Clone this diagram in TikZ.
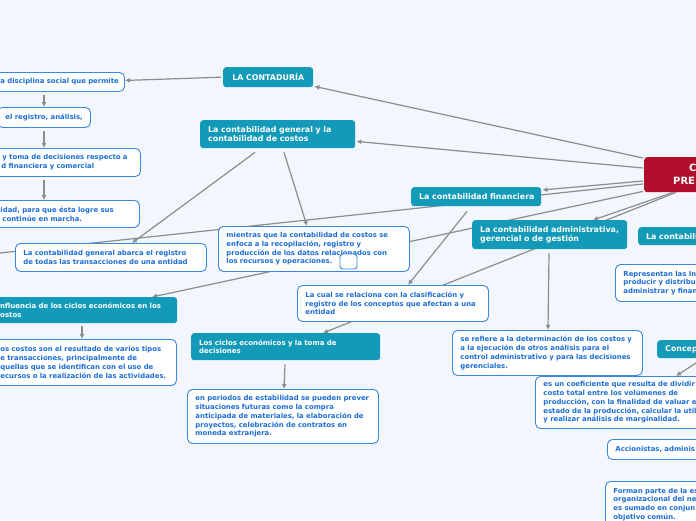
\documentclass[tikz,border=0pt]{standalone}
\usepackage{fontspec}
\setmainfont{DejaVu Sans}
\usetikzlibrary{calc,arrows.meta,backgrounds}
\definecolor{bg}{RGB}{243,246,253}
\definecolor{tealc}{RGB}{19,154,185}
\definecolor{redc}{RGB}{176,14,42}
\definecolor{bord}{RGB}{58,135,224}
\definecolor{blu}{RGB}{28,110,214}
\definecolor{gr}{RGB}{140,140,140}
\tikzset{
 tealbox/.style={fill=tealc, rounded corners=3pt, text=white, font=\fontsize{7.9}{9}\selectfont\bfseries, align=left, inner xsep=8pt, inner ysep=0pt, anchor=north west},
 smallteal/.style={tealbox, font=\fontsize{7}{8.5}\selectfont\bfseries},
 redbox/.style={fill=redc, rounded corners=3pt, text=white, font=\fontsize{10}{13}\selectfont\bfseries, align=left, inner ysep=0pt, anchor=north west},
 whitebox/.style={fill=white, draw=bord, line width=0.9pt, rounded corners=5pt, text=blu, font=\fontsize{6.9}{8.7}\selectfont\bfseries, align=left, inner xsep=8pt, inner ysep=0pt, anchor=north west},
 sqbox/.style={fill=white, draw=bord, line width=0.9pt, rounded corners=3pt, minimum width=17pt, minimum height=15pt, inner sep=0pt},
 conn/.style={draw=gr, line width=1.2pt},
 arr/.style={conn, -{Latex[length=5pt,width=5pt]}},
}
\begin{document}
\begin{tikzpicture}[x=1pt,y=-1pt]
\useasboundingbox (0,0) rectangle (696,520);
\clip (0,0) rectangle (696,520);
% teal nodes
\node[tealbox, text width=74pt, align=center, minimum height=20pt] (cont) at (223,67) {\mbox{LA CONTADURÍA}};
\node[tealbox, text width=139pt, minimum height=28pt] (gen) at (200,120) {\mbox{La contabilidad general y la}\\\mbox{contabilidad de costos}};
\node[tealbox, text width=114pt, minimum height=19pt] (fin) at (411,187) {\mbox{La contabilidad financiera}};
\node[tealbox, text width=139pt, minimum height=29pt] (adm) at (472,220) {\mbox{La contabilidad administrativa,}\\\mbox{gerencial o de gestión}};
\node[tealbox, text width=100pt, minimum height=18pt] (cos) at (638,227) {\mbox{La contabili}};
\node[smallteal, text width=169pt, minimum height=26pt] (infl) at (-8,297) {\mbox{nfluencia de los ciclos económicos en los}\\\mbox{ostos}};
\node[smallteal, text width=173pt, minimum height=27pt] (cic) at (191,333) {\mbox{Los ciclos económicos y la toma de}\\\mbox{decisiones}};
\node[tealbox, text width=60pt, minimum height=18pt] (conc) at (657,340) {\mbox{Concept}};
\node[redbox, text width=60pt, inner xsep=29pt, minimum height=35pt] (red) at (644,157) {\hspace*{16pt}C\\PRE};
% white nodes
\node[whitebox, text width=116pt, minimum height=19pt] (dis) at (-8,72) {\mbox{a disciplina social que permite}};
\node[whitebox, text width=77pt, minimum height=20pt] (reg) at (-3,107) {\mbox{el registro, análisis,}};
\node[whitebox, text width=131pt, minimum height=28pt] (toma) at (-7,148) {\mbox{\hspace*{1pt}y toma de decisiones respecto a}\\\mbox{d financiera y comercial}};
\node[whitebox, text width=131pt, minimum height=27pt] (ida) at (-8,200) {\mbox{idad, para que ésta logre sus}\\\mbox{\hspace*{2pt}continúe en marcha.}};
\node[whitebox, text width=175pt, minimum height=28pt] (abar) at (15,243) {\mbox{La contabilidad general abarca el registro}\\\mbox{de todas las transacciones de una entidad}};
\node[whitebox, text width=175pt, minimum height=45pt] (mien) at (218,226) {\mbox{mientras que la contabilidad de costos se}\\\mbox{enfoca a la recopilación, registro y}\\\mbox{producción de los datos relacionados con}\\\mbox{los recursos y operaciones.}};
\node[sqbox] (sq) at (348.5,261.5) {};
\node[whitebox, text width=175pt, minimum height=36pt] (cual) at (297,285) {\mbox{La cual se relaciona con la clasificación y}\\\mbox{registro de los conceptos que afectan a una}\\\mbox{entidad}};
\node[whitebox, text width=175pt, minimum height=54pt] (per) at (187,389) {\mbox{en periodos de estabilidad se pueden prever}\\\mbox{situaciones futuras como la compra}\\\mbox{anticipada de materiales, la elaboración de}\\\mbox{proyectos, celebración de contratos en}\\\mbox{moneda extranjera.}};
\node[whitebox, text width=174pt, minimum height=45pt] (ref) at (452,330) {\mbox{se refiere a la determinación de los costos y}\\\mbox{a la ejecución de otros análisis para el}\\\mbox{control administrativo y para las decisiones}\\\mbox{gerenciales.}};
\node[whitebox, text width=168pt, minimum height=46pt] (cost2) at (-8,339) {\mbox{os costos son el resultado de varios tipos}\\\mbox{e transacciones, principalmente de}\\\mbox{quellas que se identifican con el uso de}\\\mbox{ecursos o la realización de las actividades.}};
\node[whitebox, text width=110pt, minimum height=37pt] (rep) at (615,264) {\mbox{Representan las In}\\\mbox{producir y distribu}\\\mbox{administrar y finan}};
\node[whitebox, text width=190pt, minimum height=52pt] (coef) at (535,376) {\mbox{es un coeficiente que resulta de dividir}\\\mbox{costo total entre los volúmenes de}\\\mbox{producción, con la finalidad de valuar e}\\\mbox{estado de la producción, calcular la util}\\\mbox{y realizar análisis de marginalidad.}};
\node[whitebox, text width=110pt, minimum height=20pt] (acc) at (607,439) {\mbox{Accionistas, adminis}};
\node[whitebox, text width=110pt, minimum height=46pt] (for) at (605,481) {\mbox{Forman parte de la es}\\\mbox{organizacional del ne}\\\mbox{es sumado en conjun}\\\mbox{objetivo común.}};
\coordinate (offl) at (-30,256.2);
\begin{pgfonlayer}{background}
\clip (0,0) rectangle (696,520);
\fill[bg] (0,0) rectangle (696,520);
\draw[arr] ($(red.north west)+(-1,1)$) -- ($(cont.south east)+(1,-1)$);
\draw[arr] ($(red.north west)+(-1,11)$) -- ($(gen.south east)+(1,-7)$);
\draw[arr] ($(red.north west)+(-1,24)$) -- ($(fin.north east)+(1,3)$);
\draw[conn] ($(red.north west)+(-1,27)$) -- (offl);
\draw[arr] ($(red.south west)+(-1,-1)$) -- ($(infl.north west)+(160,0)$);
\draw[arr] ($(red.south west)+(29,0)$) -- ($(adm.north west)+(121,0)$);
\draw[arr] ($(red.south west)+(32,0)$) -- ($(cic.north west)+(132,0)$);
\draw[arr] ($(fin.south west)+(56,5)$) -- ($(cual.north west)+(111,0)$);
\draw[arr] ($(gen.south west)+(55,4)$) -- ($(abar.north west)+(117,0)$);
\draw[arr] ($(gen.south west)+(84,4)$) -- ($(mien.north west)+(89,0)$);
\draw[arr] ($(adm.south west)+(77,4)$) -- ($(ref.north west)+(96,0)$);
\draw[arr] ($(cont.west)+(-2,0)$) -- ($(dis.east)+(0,-1.5)$);
\draw[arr] ($(dis.south west)+(52,3)$) -- ($(reg.north west)+(47,0)$);
\draw[arr] ($(reg.south west)+(47,3)$) -- ($(toma.north west)+(51,0)$);
\draw[arr] ($(toma.south west)+(51,3)$) -- ($(ida.north west)+(52,0)$);
\draw[arr] ($(infl.south west)+(90,3)$) -- ($(cost2.north west)+(90,0)$);
\draw[arr] ($(cic.south west)+(94,4)$) -- ($(per.north west)+(97,0)$);
\draw[arr] ($(conc.south west)+(40,4)$) -- ($(coef.north west)+(141,0)$);
\end{pgfonlayer}
\end{tikzpicture}
\end{document}
